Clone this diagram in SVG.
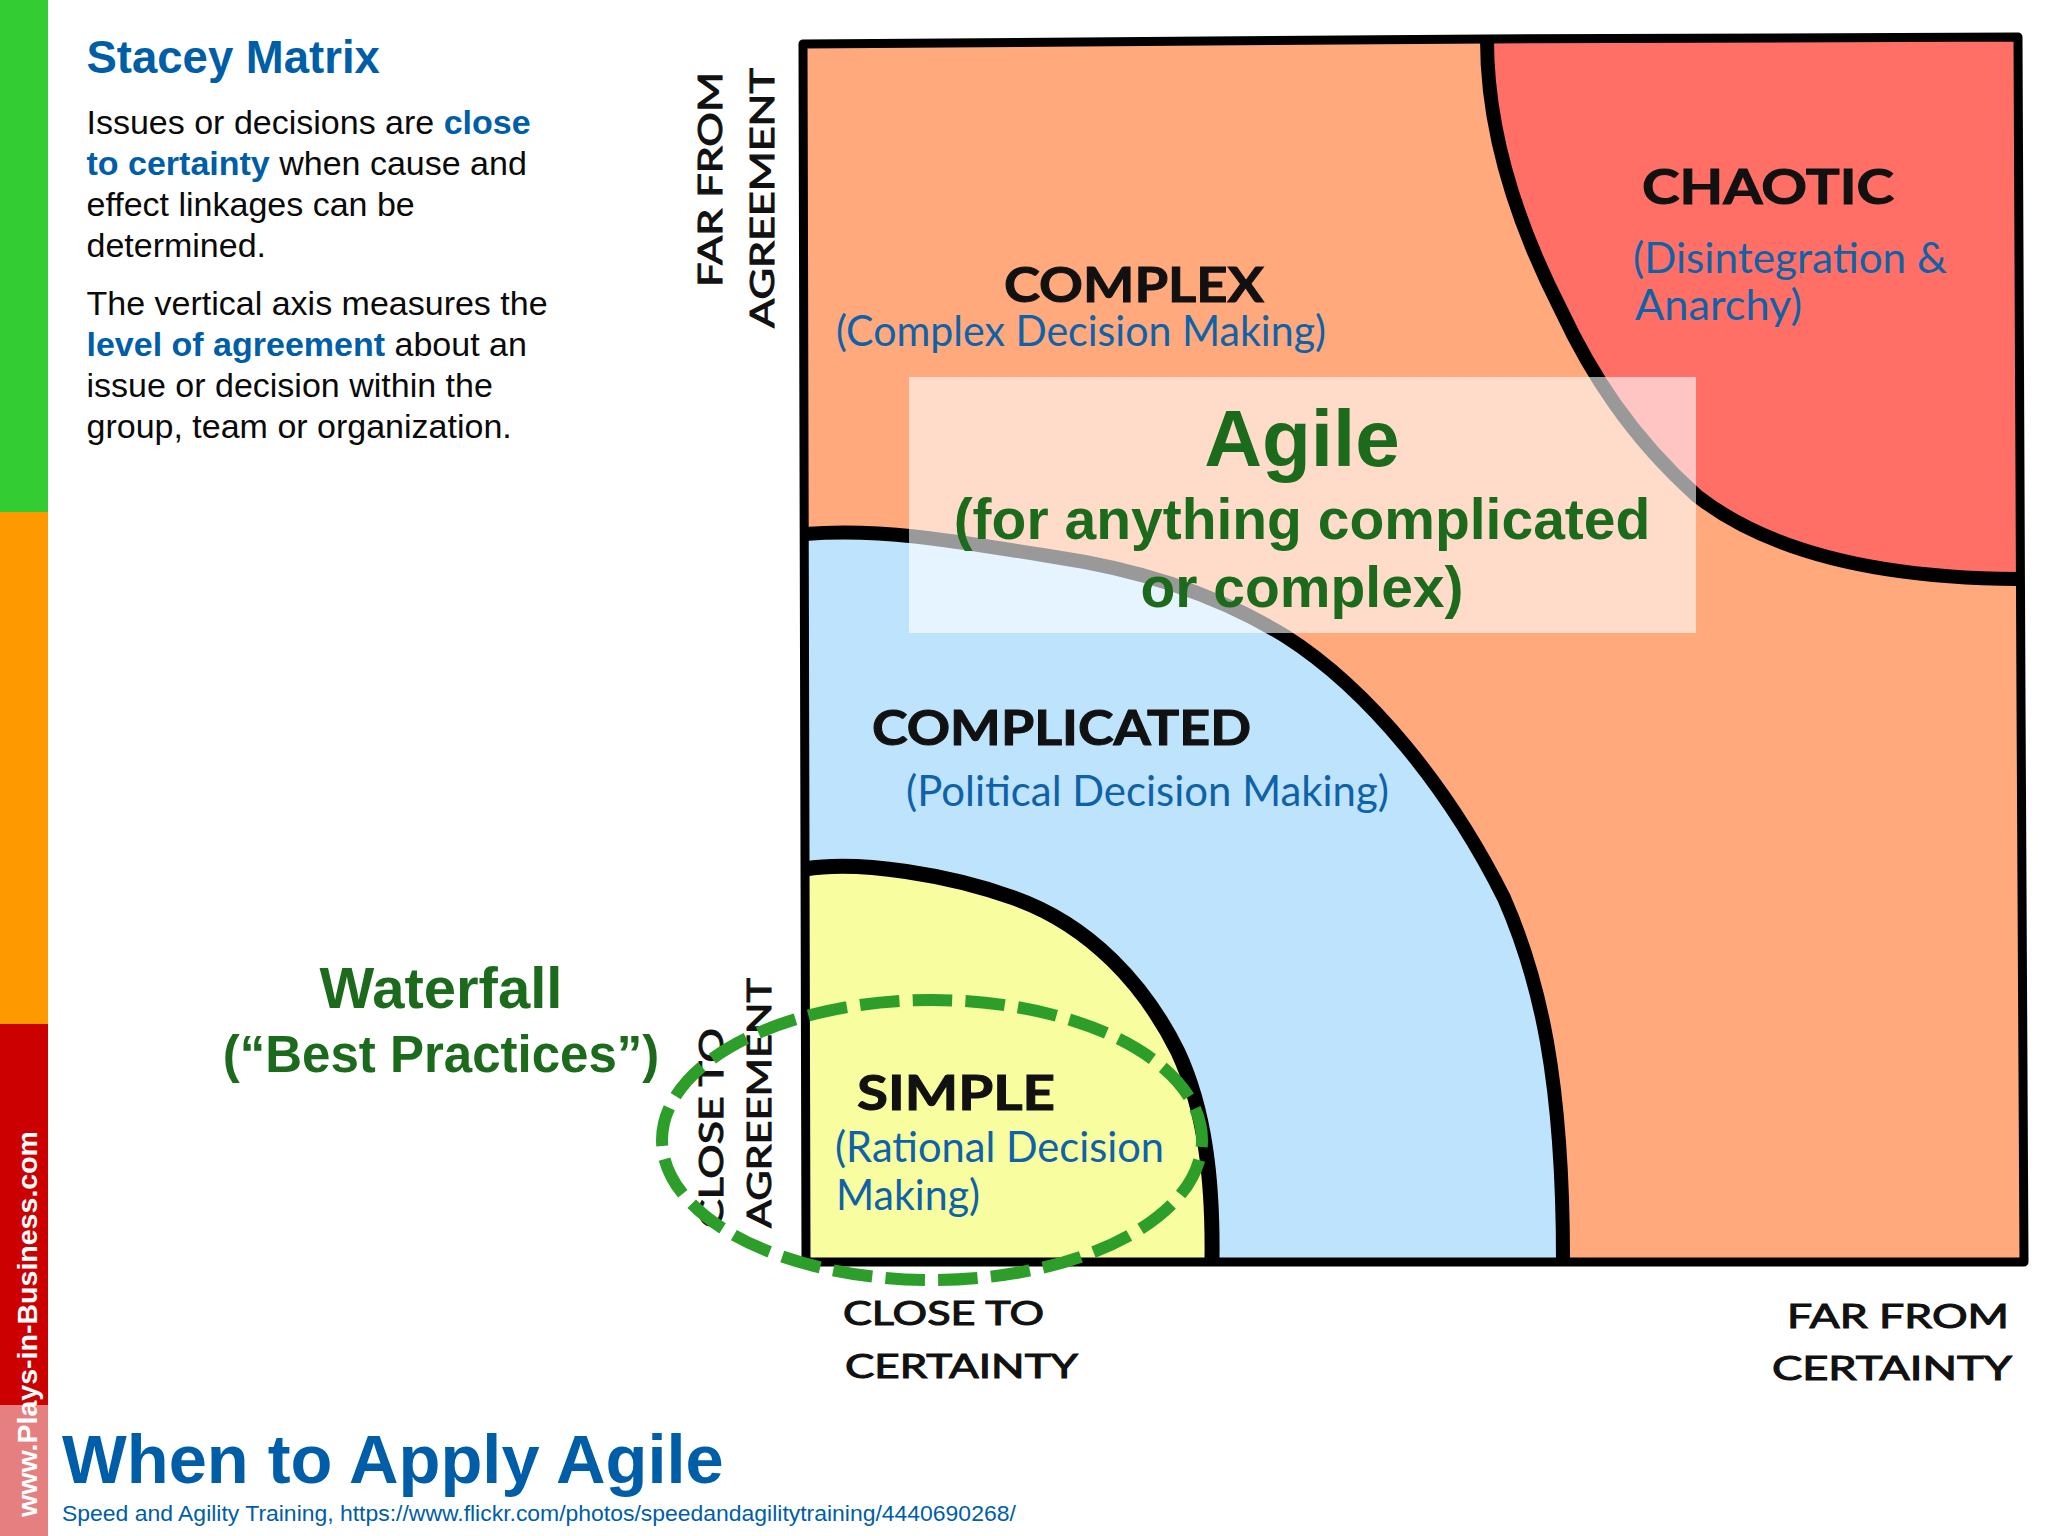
<svg xmlns="http://www.w3.org/2000/svg" width="2048" height="1536" viewBox="0 0 2048 1536">
<style>
.s{font-family:"Liberation Sans",Arial,sans-serif}
.b{font-weight:bold}
.body{font-size:34px;fill:#0a0a0a}
.hl{fill:#005ea8;font-weight:bold}
.gr{fill:#1c6b1c;font-weight:bold;text-anchor:middle}
.hand{font-family:"Lato","Noto Sans",sans-serif;font-weight:700;fill:#111;stroke:#111;stroke-width:1px}
.ax{font-family:"Lato","Noto Sans",sans-serif;font-weight:400;fill:#111;stroke:#111;stroke-width:1px}
.note{font-family:"Lato","Noto Sans",sans-serif;font-size:42px;fill:#0f62a8}
.curve{fill:none;stroke:#000;stroke-width:14;stroke-linecap:butt}
</style>
<rect width="2048" height="1536" fill="#fff"/>
<g id="side-bars">
<rect x="0" y="0" width="48" height="512" fill="#33cc33"/>
<rect x="0" y="512" width="48" height="512" fill="#ff9900"/>
<rect x="0" y="1024" width="48" height="512" fill="#cc0000"/>
<text class="s b" transform="translate(37 1517) rotate(-90)" font-size="28.5" fill="#fff" textLength="386" lengthAdjust="spacingAndGlyphs">www.Plays-in-Business.com</text>
</g>
<g id="intro-text" class="s">
<text x="86.5" y="73" font-size="45.5" class="hl">Stacey Matrix</text>
<text class="body" x="86.5" y="134">Issues or decisions are <tspan class="hl">close</tspan></text>
<text class="body" x="86.5" y="175"><tspan class="hl">to certainty</tspan> when cause and</text>
<text class="body" x="86.5" y="216">effect linkages can be</text>
<text class="body" x="86.5" y="257">determined.</text>
<text class="body" x="86.5" y="315">The vertical axis measures the</text>
<text class="body" x="86.5" y="356"><tspan class="hl">level of agreement</tspan> about an</text>
<text class="body" x="86.5" y="397">issue or decision within the</text>
<text class="body" x="86.5" y="438">group, team or organization.</text>
</g>
<g id="matrix">
<path id="region-complex" fill="#ffa97c" d="M803 42L2018 37L2024 1262L806 1262Z"/>
<path id="region-chaotic" fill="#ff6f66" d="M1487 40C1487 130 1515 220 1561 310C1590 372 1630 436 1697 496C1760 545 1860 578 2018 579L2018 37Z"/>
<path id="region-complicated" fill="#bee3fc" d="M805 534C880 528 950 540 1055 557C1130 568 1210 590 1285 636C1370 690 1450 790 1504 898C1540 980 1563 1080 1563 1260L806 1262Z"/>
<path id="region-simple" fill="#f8fd9f" d="M805 869C860 860 950 875 1014 898C1090 925 1145 985 1178 1052C1205 1110 1213 1180 1212 1260L806 1262Z"/>
<path class="curve" d="M1487 40C1487 130 1515 220 1561 310C1590 372 1630 436 1697 496C1760 545 1860 578 2018 579"/>
<path class="curve" d="M805 534C880 528 950 540 1055 557C1130 568 1210 590 1285 636C1370 690 1450 790 1504 898C1540 980 1563 1080 1563 1260"/>
<path class="curve" style="stroke-width:15" d="M805 869C860 860 950 875 1014 898C1090 925 1145 985 1178 1052C1205 1110 1213 1180 1212 1260"/>
<path fill="none" stroke="#000" stroke-width="9" stroke-linejoin="round" d="M803 44L1487 39L2018 37L2021 700L2024 1262L1200 1262L806 1262Z"/>
</g>
<g id="labels">
<text class="hand" x="1642" y="204" font-size="48" textLength="252" lengthAdjust="spacingAndGlyphs">CHAOTIC</text>
<text class="hand" x="1004" y="302" font-size="48" textLength="260" lengthAdjust="spacingAndGlyphs">COMPLEX</text>
<text class="hand" x="872" y="745" font-size="48" textLength="379" lengthAdjust="spacingAndGlyphs">COMPLICATED</text>
<text class="hand" x="857" y="1110" font-size="48" textLength="198" lengthAdjust="spacingAndGlyphs">SIMPLE</text>
<text class="note" x="1633" y="273" textLength="314" lengthAdjust="spacingAndGlyphs">(Disintegration &amp;</text>
<text class="note" x="1635" y="320" textLength="167" lengthAdjust="spacingAndGlyphs">Anarchy)</text>
<text class="note" x="836" y="346" textLength="490" lengthAdjust="spacingAndGlyphs">(Complex Decision Making)</text>
<text class="note" x="906" y="806" textLength="483" lengthAdjust="spacingAndGlyphs">(Political Decision Making)</text>
<text class="note" x="835" y="1162" textLength="329" lengthAdjust="spacingAndGlyphs">(Rational Decision</text>
<text class="note" x="836" y="1210" textLength="144" lengthAdjust="spacingAndGlyphs">Making)</text>
</g>
<g id="axis-labels">
<text class="ax" font-size="33" transform="translate(722 287) rotate(-90)" textLength="215" lengthAdjust="spacingAndGlyphs">FAR FROM</text>
<text class="ax" font-size="33" transform="translate(774 328) rotate(-90)" textLength="260" lengthAdjust="spacingAndGlyphs">AGREEMENT</text>
<text class="ax" font-size="33" transform="translate(723 1228) rotate(-90)" textLength="200" lengthAdjust="spacingAndGlyphs">CLOSE TO</text>
<text class="ax" font-size="33" transform="translate(771 1228) rotate(-90)" textLength="250" lengthAdjust="spacingAndGlyphs">AGREEMENT</text>
<text class="ax" font-size="32" x="843" y="1325" textLength="201" lengthAdjust="spacingAndGlyphs">CLOSE TO</text>
<text class="ax" font-size="32" x="845" y="1378" textLength="233" lengthAdjust="spacingAndGlyphs">CERTAINTY</text>
<text class="ax" font-size="32" x="1787" y="1328" textLength="222" lengthAdjust="spacingAndGlyphs">FAR FROM</text>
<text class="ax" font-size="32" x="1772" y="1380" textLength="240" lengthAdjust="spacingAndGlyphs">CERTAINTY</text>
</g>
<g id="agile-panel" class="s">
<rect x="909" y="377" width="787" height="256" fill="#fff" fill-opacity="0.6"/>
<text class="gr" x="1302" y="466" font-size="80">Agile</text>
<text class="gr" x="1302" y="539" font-size="57">(for anything complicated</text>
<text class="gr" x="1302" y="607" font-size="57">or complex)</text>
</g>
<g id="waterfall" class="s">
<text class="gr" x="441" y="1008" font-size="58">Waterfall</text>
<text class="gr" x="441" y="1072" font-size="51">(“Best Practices”)</text>
<ellipse cx="932" cy="1140" rx="270" ry="140" fill="none" stroke="#2e9e2a" stroke-width="12" stroke-dasharray="39.5 13.3" stroke-dashoffset="32.45"/>
</g>
<g id="title" class="s">
<rect x="0" y="1405" width="48" height="131" fill="#fff" fill-opacity="0.5"/>
<text x="62" y="1483" font-size="68.6" class="hl">When to Apply Agile</text>
<text x="62" y="1521" font-size="22.95" fill="#005ea8">Speed and Agility Training, https://www.flickr.com/photos/speedandagilitytraining/4440690268/</text>
</g>
</svg>
